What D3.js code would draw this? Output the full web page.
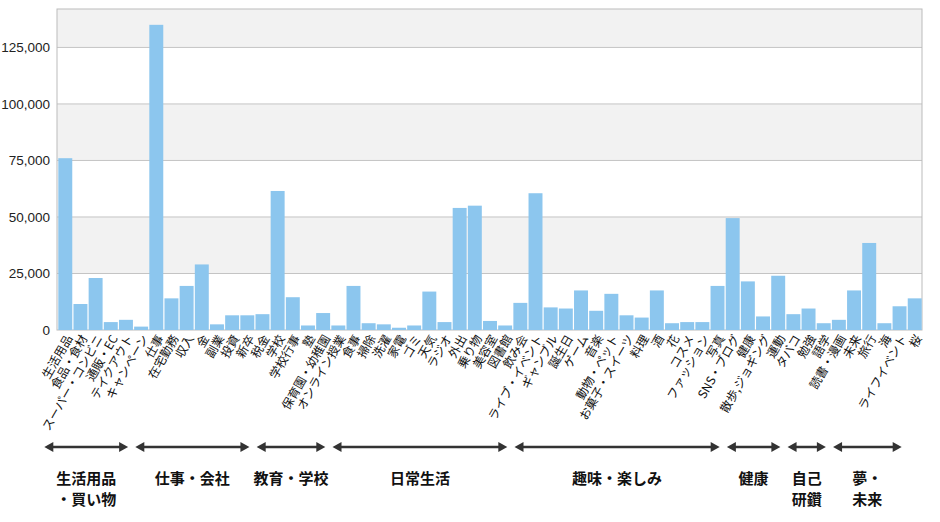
<!DOCTYPE html>
<html>
<head>
<meta charset="utf-8">
<script src="https://d3js.org/d3.v7.min.js"></script>
<style>
    body { margin: 0; background: #fff; font-family: "Noto Sans CJK JP", sans-serif; }
    .tick text { font-family: "Liberation Sans", sans-serif; font-size: 13.5px; fill: #222; }
</style>
</head>
<body>
<script>
    const categories = ["生活用品", "食品・食材", "スーパー・コンビニ", "通販・EC", "テイクアウト", "キャンペーン",
        "仕事", "在宅勤務", "収入", "金", "副業", "投資", "新卒", "税金",
        "学校", "学校行事", "塾", "保育園・幼稚園", "オンライン授業",
        "食事", "掃除", "洗濯", "家電", "ゴミ", "天気", "ラジオ", "外出", "乗り物", "美容室", "図書館", "飲み会",
        "ライブ・イベント", "ギャンブル", "誕生日", "ゲーム", "音楽", "動物・ペット", "お菓子・スイーツ", "料理", "酒", "花", "コスメ", "ファッション", "写真", "SNS・ブログ",
        "健康", "散歩,ジョギング", "運動", "タバコ",
        "勉強", "語学", "読書・漫画",
        "未来", "旅行", "海", "ライフイベント", "桜"];
    const values = [76000, 11500, 23000, 3500, 4500, 1500,
        135000, 14000, 19500, 29000, 2500, 6500, 6500, 7000,
        61500, 14500, 2000, 7500, 2000,
        19500, 3000, 2500, 1000, 2000, 17000, 3500, 54000, 55000, 4000, 2000, 12000,
        60500, 10000, 9500, 17500, 8500, 16000, 6500, 5500, 17500, 3000, 3500, 3500, 19500, 49500,
        21500, 6000, 24000, 7000,
        9500, 3000, 4500,
        17500, 38500, 3000, 10500, 14000];
    const groupNames = ["生活用品\n・買い物", "仕事・会社", "教育・学校", "日常生活", "趣味・楽しみ", "健康", "自己\n研鑽", "夢・\n未来"];
    const groupSizes = [6, 8, 5, 12, 14, 4, 3, 5];
    const yTicks = [0, 25000, 50000, 75000, 100000, 125000];

    const width = 940, height = 522;
    const m = { left: 57, right: 18, top: 9, bottom: 192 };
    const svg = d3.select("body").append("svg").attr("width", width).attr("height", height);

    const x = d3.scaleBand().domain(categories).range([m.left + 1, width - m.right]).paddingInner(0.08).paddingOuter(0.02);
    const y = d3.scaleLinear().domain([0, 142000]).range([height - m.bottom, m.top]);

    // alternating bands
    [[25000, 50000], [75000, 100000], [125000, 142000]].forEach(function(b) {
        svg.append("rect").attr("x", m.left).attr("width", width - m.right - m.left)
            .attr("y", y(b[1])).attr("height", y(b[0]) - y(b[1])).attr("fill", "#f2f2f2");
    });
    svg.append("g").selectAll("line").data(yTicks.slice(1)).join("line")
        .attr("x1", m.left).attr("x2", width - m.right)
        .attr("y1", function(d) { return y(d); }).attr("y2", function(d) { return y(d); })
        .attr("stroke", "#c4c4c4");
    svg.append("rect").attr("x", m.left).attr("y", m.top).attr("width", width - m.right - m.left)
        .attr("height", y(0) - m.top).attr("fill", "none").attr("stroke", "#bbb");

    svg.append("g").selectAll("rect").data(values).join("rect")
        .attr("x", function(d, i) { return x(categories[i]); })
        .attr("width", x.bandwidth())
        .attr("y", function(d) { return y(d); })
        .attr("height", function(d) { return y(0) - y(d); })
        .attr("fill", "#8cc6ee");

    const yAxis = svg.append("g").attr("transform", "translate(" + (m.left - 4) + ",0)")
        .call(d3.axisLeft(y).tickValues(yTicks).tickSize(0).tickFormat(d3.format(",")));
    yAxis.select(".domain").remove();

    svg.append("g").selectAll("text").data(categories).join("text")
        .attr("transform", function(d) {
            return "translate(" + (x(d) + x.bandwidth() / 2 + 4) + "," + (y(0) + 6) + ") rotate(-60)";
        })
        .attr("text-anchor", "end").attr("dy", "0.35em")
        .style("font-size", "12px").style("fill", "#111")
        .text(function(d) { return d; });

    // group brackets
    let start = 0;
    groupSizes.forEach(function(n, gi) {
        const x0 = x(categories[start]) - 14;
        const x1 = x(categories[start + n - 1]) + x.bandwidth() - 20;
        const ay = 447;
        svg.append("line").attr("x1", x0 + 4).attr("x2", x1 - 4).attr("y1", ay).attr("y2", ay)
            .attr("stroke", "#333").attr("stroke-width", 2.5);
        svg.append("path").attr("d", "M" + x0 + "," + ay + "l9,-5v10z").attr("fill", "#333");
        svg.append("path").attr("d", "M" + x1 + "," + ay + "l-9,-5v10z").attr("fill", "#333");
        const lines = groupNames[gi].split("\n");
        const t = svg.append("text").attr("x", (x0 + x1) / 2).attr("y", 484)
            .attr("text-anchor", "middle").style("font-size", "15px").style("font-weight", "bold").style("fill", "#111");
        lines.forEach(function(l, li) {
            t.append("tspan").attr("x", (x0 + x1) / 2).attr("dy", li ? 21 : 0).text(l);
        });
        start += n;
    });
</script>
</body>
</html>
